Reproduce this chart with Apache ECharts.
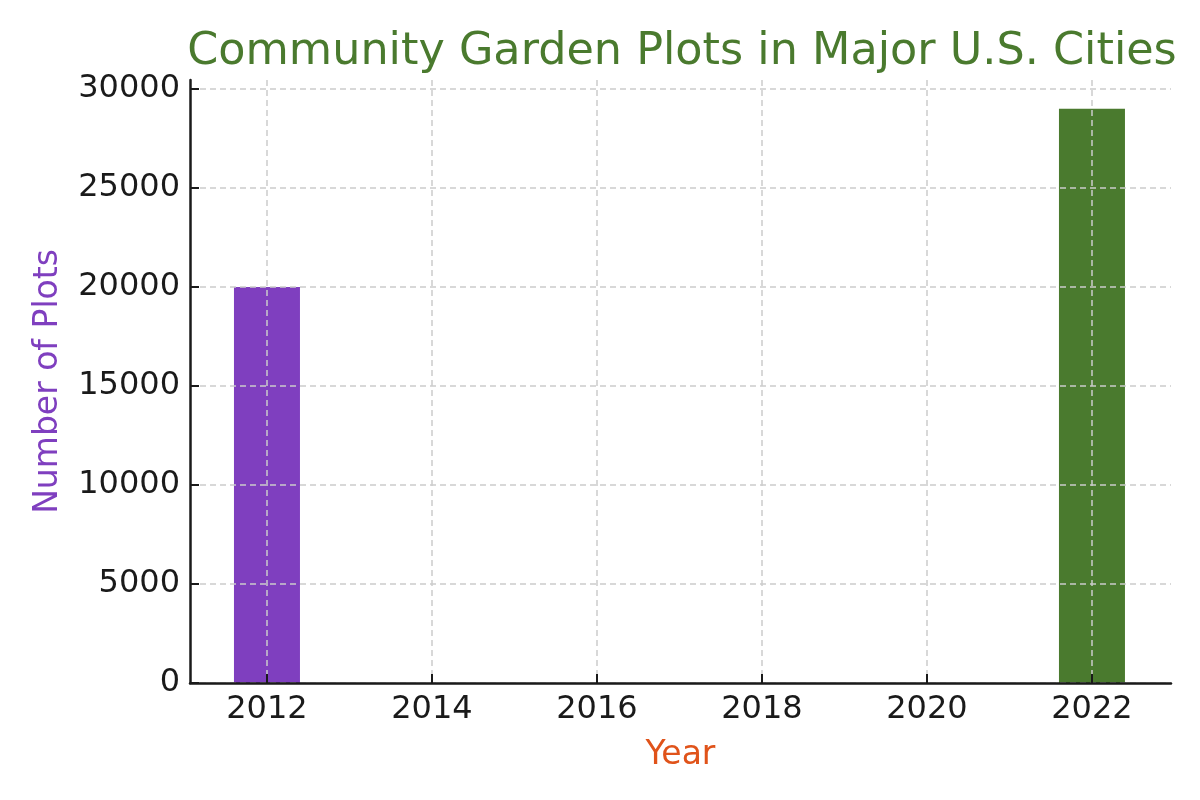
<!DOCTYPE html>
<html>
<head>
<meta charset="utf-8">
<script src="https://cdn.jsdelivr.net/npm/echarts@6/dist/echarts.min.js"></script>
<style>
  html, body { margin: 0; padding: 0; background: #fff; }
  #main { width: 1200px; height: 800px; }
</style>
</head>
<body>
<div id="main"></div>
<script>
var years = [2012, 2022];
var plots = [20000, 29000];
var barColors = ['#7f3fbf', '#4a7a2e'];
var xTicks = [2012, 2014, 2016, 2018, 2020, 2022];
var yTicks = [0, 5000, 10000, 15000, 20000, 25000, 30000];

var myChart = echarts.init(document.getElementById('main'));

var barData = [];
for (var i = 0; i < years.length; i++) {
    barData.push({
        value: [years[i], plots[i]],
        itemStyle: { color: barColors[i] }
    });
}

var font = 'DejaVu Sans';
var gridLine = { show: true, lineStyle: { color: '#cccccc', type: [6, 4], width: 1.5 } };

var option = {
    backgroundColor: '#ffffff',
    animation: false,
    textStyle: { fontFamily: font },
    title: {
        text: 'Community Garden Plots in Major U.S. Cities',
        left: 677,
        top: 25,
        textAlign: 'center',
        textStyle: { color: '#4a7a2e', fontSize: 44.5, fontWeight: 'normal', fontFamily: font }
    },
    grid: { left: 190, right: 29, top: 80, bottom: 117 },
    xAxis: {
        type: 'value',
        min: 2011.067,
        max: 2022.958,
        name: 'Year',
        nameLocation: 'middle',
        nameGap: 56,
        nameTextStyle: { color: '#e0531a', fontSize: 33, fontFamily: font },
        axisLine: { show: true, lineStyle: { color: '#1a1a1a', width: 2.5 } },
        axisTick: { show: true, inside: true, length: 9, lineStyle: { color: '#1a1a1a', width: 2 }, customValues: xTicks },
        axisLabel: { color: '#1a1a1a', fontSize: 32, margin: 11, customValues: xTicks, formatter: function (v) { return String(v); } },
        splitLine: gridLine
    },
    yAxis: {
        type: 'value',
        min: 0,
        max: 30450,
        name: 'Number of Plots',
        nameLocation: 'middle',
        nameGap: 125,
        nameTextStyle: { color: '#7f3fbf', fontSize: 33, fontFamily: font },
        axisLine: { show: true, lineStyle: { color: '#1a1a1a', width: 2.5 } },
        axisTick: { show: true, inside: true, length: 9, lineStyle: { color: '#1a1a1a', width: 2 }, customValues: yTicks },
        axisLabel: { color: '#1a1a1a', fontSize: 32, margin: 10, customValues: yTicks, formatter: function (v) { return String(v); } },
        splitLine: gridLine
    },
    series: [{
        type: 'bar',
        z: -1,
        barWidth: 66,
        data: barData
    }]
};
myChart.setOption(option);
</script>
</body>
</html>
